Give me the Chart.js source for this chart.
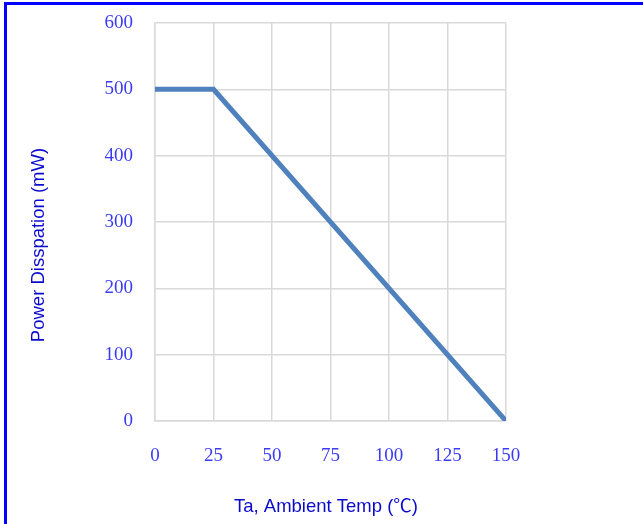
<!DOCTYPE html>
<html lang="en">
<head>
  <meta charset="UTF-8">
  <title>Power Dissipation Curve</title>
  <script src="https://cdn.jsdelivr.net/npm/chart.js"></script>
  <style>
    html, body {
      margin: 0;
      padding: 0;
      background: #fff;
      overflow: hidden;
    }
    .frame {
      position: absolute;
      left: 4px;
      top: 2px;
      width: 700px;
      height: 600px;
      border-left: 3px solid #0000ff;
      border-top: 3px solid #0000ff;
    }
    #chart {
      position: absolute;
      left: 0;
      top: 0;
    }
  </style>
</head>
<body>
  <div class="frame"></div>
  <canvas id="chart" width="643" height="524"></canvas>

  <script>
    // data
    const tempC = [0, 25, 150];
    const powerMW = [500, 500, 0];
    const xTicks = [0, 25, 50, 75, 100, 125, 150];
    const yTicks = [0, 100, 200, 300, 400, 500, 600];

    const xTitle = 'Ta, Ambient Temp (\u2103)';
    const yTitle = 'Power Disspation (mW)';

    const tickColor = '#3b3bf5';
    const titleColor = '#0a0acc';
    const gridColor = '#d9d9d9';

    // axis titles drawn by hand so they sit where the original has them
    const axisTitles = {
      id: 'axisTitles',
      afterDraw(chart) {
        const ctx = chart.ctx;
        ctx.save();
        ctx.fillStyle = titleColor;
        ctx.font = '18.5px "Liberation Sans", "Noto Sans CJK SC", Arial, sans-serif';
        ctx.textAlign = 'center';
        ctx.textBaseline = 'middle';
        ctx.fillText(xTitle, 326, 507);
        ctx.translate(39, 245);
        ctx.rotate(-Math.PI / 2);
        ctx.fillText(yTitle, 0, 0);
        ctx.restore();
      }
    };

    new Chart(document.getElementById('chart'), {
      type: 'line',
      data: {
        datasets: [{
          data: tempC.map((t, i) => ({ x: t, y: powerMW[i] })),
          borderColor: '#4f81bd',
          borderWidth: 5,
          borderCapStyle: 'round',
          borderJoinStyle: 'miter',
          pointRadius: 0,
          fill: false,
          tension: 0
        }]
      },
      options: {
        responsive: false,
        animation: false,
        layout: { padding: { left: 0, top: 23, right: 137, bottom: 0 } },
        plugins: {
          legend: { display: false },
          tooltip: { enabled: false }
        },
        scales: {
          x: {
            type: 'linear',
            min: 0,
            max: 150,
            afterBuildTicks: s => { s.ticks = xTicks.map(v => ({ value: v })); },
            afterFit: s => { s.height = 103; },
            grid: { color: gridColor, lineWidth: 1.5, drawTicks: false },
            border: { color: gridColor, width: 1.5 },
            ticks: {
              color: tickColor,
              padding: 24,
              maxRotation: 0,
              font: { family: '"Liberation Serif", "Times New Roman", serif', size: 19 }
            }
          },
          y: {
            min: 0,
            max: 600,
            afterBuildTicks: s => { s.ticks = yTicks.map(v => ({ value: v })); },
            afterFit: s => {
              s.width = 155;
              // labels may stick out above the plot, as in the original
              s.paddingTop = 0;
              s.paddingBottom = 0;
            },
            grid: { color: gridColor, lineWidth: 1.5, drawTicks: false },
            border: { color: gridColor, width: 1.5 },
            ticks: {
              color: tickColor,
              padding: 22,
              font: { family: '"Liberation Serif", "Times New Roman", serif', size: 19 }
            }
          }
        }
      },
      plugins: [axisTitles]
    });
  </script>
</body>
</html>
